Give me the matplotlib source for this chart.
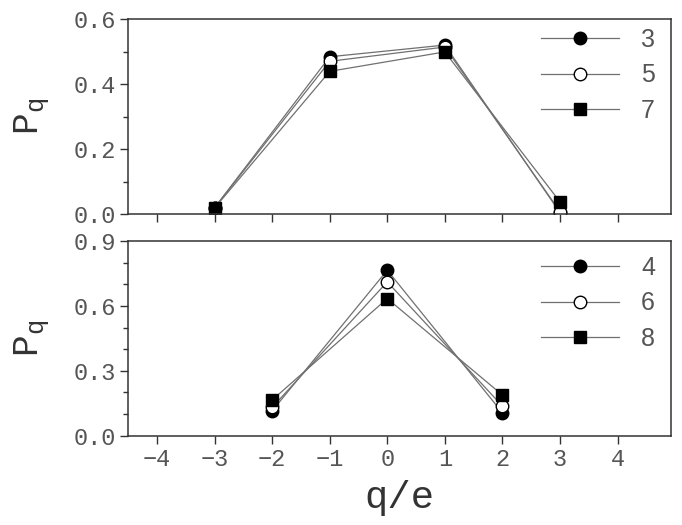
import matplotlib
matplotlib.use("Agg")
import matplotlib.pyplot as plt
from matplotlib.ticker import MultipleLocator

plt.rcParams['font.family'] = ['Liberation Mono', 'DejaVu Sans Mono']
plt.rcParams['mathtext.fontset'] = 'custom'
plt.rcParams['mathtext.rm'] = 'Liberation Mono'
plt.rcParams['mathtext.it'] = 'Liberation Mono'

# top panel: odd sizes
x_top = [-3, -1, 1, 3]
top_series = {
    "3": [0.02, 0.485, 0.521, 0.005],
    "5": [0.02, 0.471, 0.515, 0.008],
    "7": [0.019, 0.440, 0.500, 0.038],
}
# bottom panel: even sizes
x_bot = [-2, 0, 2]
bot_series = {
    "4": [0.115, 0.765, 0.106],
    "6": [0.131, 0.711, 0.137],
    "8": [0.165, 0.634, 0.188],
}
markers = [('o', 'black'), ('o', 'white'), ('s', 'black')]

gray = '#555555'
fig = plt.figure(figsize=(6.82, 5.25), dpi=100)
ax1 = fig.add_axes([0.188, 0.592, 0.796, 0.371])
ax2 = fig.add_axes([0.188, 0.170, 0.796, 0.371])


def draw(ax, xs, series, ylim, major, minor, leg_top):
    for (name, vals), (m, fc) in zip(series.items(), markers):
        ax.plot(xs, vals, color='#707070', lw=0.9, marker=m,
                markerfacecolor=fc, markeredgecolor='black', markeredgewidth=1.0,
                markersize=9 if m == 'o' else 8.5, label=name)
    ax.set_xlim(-4.5, 4.93)
    ax.set_ylim(*ylim)
    ax.xaxis.set_major_locator(MultipleLocator(1))
    ax.yaxis.set_major_locator(MultipleLocator(major))
    ax.yaxis.set_minor_locator(MultipleLocator(minor))
    ax.tick_params(which='major', length=6, width=1.0, color='#333333',
                   labelsize=17, labelcolor=gray, pad=3)
    ax.tick_params(which='minor', length=3.5, width=1.0, color='#333333')
    for s in ax.spines.values():
        s.set_color('#333333')
        s.set_linewidth(1.1)
    ax.set_ylabel(r'$\mathregular{P_q}$', fontsize=26, color='#333333')
    ax.yaxis.set_label_coords(-0.142, 0.5)
    leg = ax.legend(loc='upper left', bbox_to_anchor=(541 / 682, 1 - leg_top / 525),
                    bbox_transform=fig.transFigure, frameon=False,
                    handlelength=3.1, handletextpad=0.9,
                    labelspacing=0.45, borderpad=0, borderaxespad=0,
                    prop={'family': 'Liberation Sans', 'size': 18})
    for t in leg.get_texts():
        t.set_color(gray)


draw(ax1, x_top, top_series, (0, 0.6), 0.2, 0.1, 28)
ax1.set_yticks([0.0, 0.2, 0.4, 0.6])
ax1.set_yticklabels(['0.0', '0.2', '0.4', '0.6'])
ax1.tick_params(axis='x', labelbottom=False)

draw(ax2, x_bot, bot_series, (0, 0.9), 0.3, 0.1, 256)
ax2.set_yticks([0.0, 0.3, 0.6, 0.9])
ax2.set_yticklabels(['0.0', '0.3', '0.6', '0.9'])
ax2.set_xticks(range(-4, 5))
ax2.set_xticklabels([str(v).replace('-', '\u2212') for v in range(-4, 5)])
ax2.set_xlabel('q/e', fontsize=28, color='#333333', labelpad=6)

fig.savefig('out.png', dpi=100)
